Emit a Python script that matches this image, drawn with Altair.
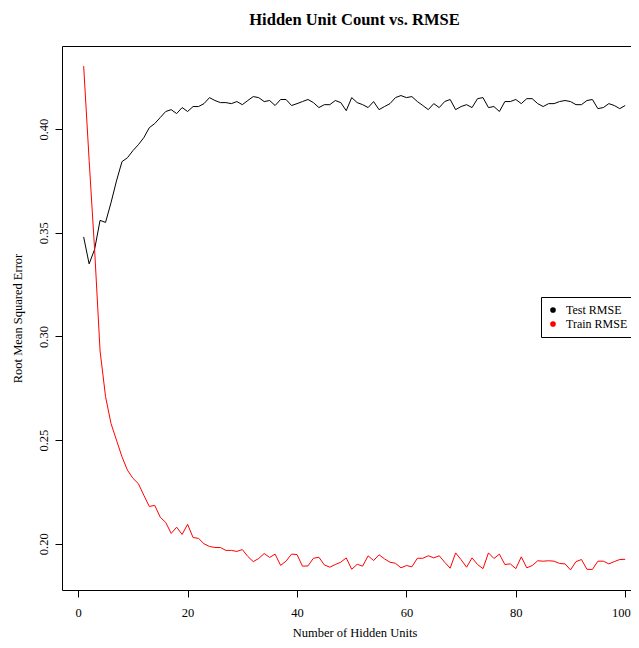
import altair as alt
import pandas as pd

hidden_units = list(range(1, 101))

test_rmse = [
    0.348, 0.335, 0.342, 0.356, 0.355, 0.3645, 0.375, 0.3843, 0.3862, 0.3896,
    0.3925, 0.3959, 0.4007, 0.4027, 0.4056, 0.4085, 0.4094, 0.4075, 0.4104, 0.4085,
    0.4109, 0.4109, 0.4123, 0.4152, 0.4138, 0.4128, 0.4128, 0.4123, 0.4133, 0.4118,
    0.4138, 0.4157, 0.4152, 0.4133, 0.4138, 0.4114, 0.4143, 0.4143, 0.4114, 0.4123,
    0.4133, 0.4143, 0.4128, 0.4104, 0.4118, 0.4118, 0.4138, 0.4128, 0.4089, 0.4152,
    0.4128, 0.4118, 0.4104, 0.4133, 0.4094, 0.4109, 0.4123, 0.4152, 0.4162, 0.4152,
    0.4157, 0.4133, 0.4114, 0.4094, 0.4123, 0.4104, 0.4133, 0.4143, 0.4094, 0.4109,
    0.4118, 0.4104, 0.4147, 0.4152, 0.4104, 0.4109, 0.4085, 0.4133, 0.4133, 0.4143,
    0.4123, 0.4147, 0.4147, 0.4123, 0.4109, 0.4123, 0.4123, 0.4133, 0.4138, 0.4133,
    0.4118, 0.4118, 0.4138, 0.4143, 0.4099, 0.4104, 0.4123, 0.4114, 0.4099, 0.4114,
]

train_rmse = [
    0.4304, 0.385, 0.342, 0.293, 0.271, 0.258, 0.250, 0.242, 0.2355, 0.2316,
    0.229, 0.2234, 0.218, 0.2185, 0.2128, 0.2103, 0.205, 0.208, 0.2045, 0.2094,
    0.203, 0.2026, 0.200, 0.1987, 0.1982, 0.1982, 0.1968, 0.1968, 0.1963, 0.1972,
    0.1939, 0.1914, 0.1929, 0.1953, 0.1934, 0.195, 0.1896, 0.1916, 0.195, 0.1948,
    0.1892, 0.1893, 0.193, 0.1935, 0.1898, 0.1887, 0.190, 0.1911, 0.1932, 0.1877,
    0.1901, 0.1892, 0.1942, 0.1919, 0.1947, 0.1927, 0.1911, 0.1906, 0.1884, 0.1895,
    0.1889, 0.193, 0.193, 0.1942, 0.1932, 0.1942, 0.1911, 0.1882, 0.1956, 0.1923,
    0.1887, 0.1932, 0.190, 0.188, 0.1956, 0.1929, 0.195, 0.190, 0.1903, 0.188,
    0.1937, 0.1884, 0.1895, 0.1918, 0.1916, 0.1918, 0.1916, 0.1905, 0.1903, 0.1874,
    0.1914, 0.1924, 0.1877, 0.1876, 0.1916, 0.1916, 0.1903, 0.1914, 0.1924, 0.1925,
]

series_names = ["Test RMSE", "Train RMSE"]
series_colors = ["black", "red"]
x_ticks = [0, 20, 40, 60, 80, 100]
y_ticks = [0.20, 0.25, 0.30, 0.35, 0.40]

df = pd.DataFrame({
    "units": hidden_units + hidden_units,
    "rmse": test_rmse + train_rmse,
    "series": [series_names[0]] * len(test_rmse) + [series_names[1]] * len(train_rmse),
})

FONT = "Liberation Serif"
W, H = 570, 544

chart = alt.Chart(df).mark_line(strokeWidth=1).encode(
    x=alt.X(
        "units:Q",
        scale=alt.Scale(domain=[-2.96, 101.24], nice=False, zero=False),
        axis=alt.Axis(
            values=x_ticks, format="d", title="Number of Hidden Units",
            titleX=292.5, titleY=46, titleBaseline="alphabetic", titleAlign="center",
            labelPadding=9,
            labelAlign={"condition": {"test": "datum.value == 100", "value": "right"}, "value": "center"},
            labelOffset={"condition": {"test": "datum.value == 100", "value": 5}, "value": 0},
        ),
    ),
    y=alt.Y(
        "rmse:Q",
        scale=alt.Scale(domain=[0.1777, 0.4401], nice=False, zero=False),
        axis=alt.Axis(
            values=y_ticks, format=".2f", labelAngle=270, labelAlign="center",
            labelBaseline="middle", labelPadding=11.5,
            title="Root Mean Squared Error", titleAngle=270, titleX=-45,
            titleY=H / 2, titleBaseline="middle", titleAlign="center",
        ),
    ),
    color=alt.Color(
        "series:N",
        scale=alt.Scale(domain=series_names, range=series_colors),
        legend=alt.Legend(
            orient="none", legendX=479, legendY=251, title=None,
            padding=6, strokeColor="black", fillColor="white", cornerRadius=0,
            labelFont=FONT, labelFontSize=12, labelColor="black", labelOffset=7,
            symbolType="circle", symbolSize=7, symbolStrokeWidth=3,
            symbolOpacity=1, rowPadding=0, clipHeight=14,
        ),
    ),
).properties(
    width=W,
    height=H,
    title=alt.TitleParams(
        "Hidden Unit Count vs. RMSE", font=FONT, fontSize=16.5, fontWeight="bold",
        anchor="middle", offset=18, dx=7.5, color="black",
    ),
    autosize=alt.AutoSizeParams(type="none"),
    padding={"left": 54, "top": 38, "right": -1, "bottom": 50},
).configure_view(
    stroke="black", strokeWidth=1,
).configure_axis(
    domain=False, grid=False, ticks=True, tickColor="black", tickSize=7, tickWidth=1,
    labelFont=FONT, labelFontSize=12.5, labelColor="black",
    titleFont=FONT, titleFontSize=12.5, titleFontWeight="normal", titleColor="black",
)

chart.save("out.html", embed_options={"renderer": "svg", "actions": False})
